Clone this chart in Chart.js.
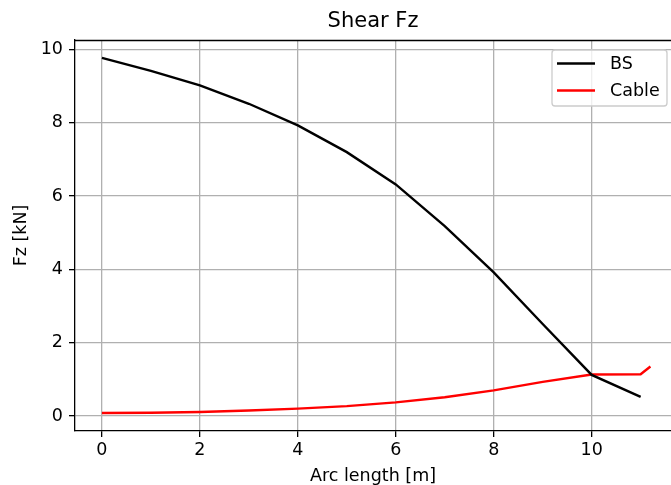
<!DOCTYPE html>
<html>
<head>
<meta charset="utf-8">
<script src="https://cdn.jsdelivr.net/npm/chart.js@4.4.0/dist/chart.umd.min.js"></script>
<style>
  html, body { margin: 0; padding: 0; background: #fff; overflow: hidden; }
  #wrap { width: 671px; height: 485px; position: relative; }
</style>
</head>
<body>
<div id="wrap"><canvas id="c" width="671" height="485"></canvas></div>
<script>
const chartTitle = "Shear Fz";
const xAxisLabel = "Arc length [m]";
const yAxisLabel = "Fz [kN]";

const bsArc = [0, 1, 2, 3, 4, 5, 6, 7, 8, 9, 10, 11];
const bsValues = [9.77, 9.42, 9.02, 8.52, 7.93, 7.20, 6.32, 5.18, 3.92, 2.51, 1.12, 0.52];

const cableArc = [0, 1, 2, 3, 4, 5, 6, 7, 8, 9, 10, 11, 11.2];
const cableValues = [0.08, 0.09, 0.11, 0.15, 0.20, 0.27, 0.37, 0.51, 0.70, 0.93, 1.13, 1.14, 1.35];

const xTicks = [0, 2, 4, 6, 8, 10];
const yTicks = [0, 2, 4, 6, 8, 10];

const FONT = "'DejaVu Sans', sans-serif";

const framePlugin = {
  id: 'frame',
  afterDatasetsDraw(chart) {
    const {ctx, chartArea: a} = chart;
    ctx.save();
    ctx.strokeStyle = '#000';
    ctx.lineWidth = 1.3;
    ctx.beginPath();
    ctx.moveTo(a.left, a.top + 0.5);
    ctx.lineTo(a.right + 10, a.top + 0.5);
    ctx.stroke();
    ctx.restore();
  },
  afterDraw(chart) {
    const {ctx, chartArea: a} = chart;
    const right = a.right - 4, top = a.top + 10;
    const w = 115, h = 56;
    const left = right - w;
    ctx.save();
    ctx.fillStyle = 'rgba(255,255,255,0.8)';
    ctx.strokeStyle = '#cccccc';
    ctx.lineWidth = 1.3;
    ctx.beginPath();
    if (ctx.roundRect) ctx.roundRect(left, top, w, h, 3); else ctx.rect(left, top, w, h);
    ctx.fill();
    ctx.stroke();
    ctx.font = '17.5px ' + FONT;
    ctx.textBaseline = 'middle';
    ctx.textAlign = 'left';
    chart.data.datasets.forEach((ds, i) => {
      const y = top + 13.5 + i * 27;
      ctx.strokeStyle = ds.borderColor;
      ctx.lineWidth = 2.4;
      ctx.beginPath();
      ctx.moveTo(left + 5, y);
      ctx.lineTo(left + 43, y);
      ctx.stroke();
      ctx.fillStyle = '#000';
      ctx.fillText(ds.label, left + 58, y + 1);
    });
    ctx.restore();
  }
};

const toPts = (xs, ys) => xs.map((x, i) => ({x: x, y: ys[i]}));

new Chart(document.getElementById('c'), {
  type: 'line',
  data: {
    datasets: [
      { label: 'BS', data: toPts(bsArc, bsValues), borderColor: '#000000', backgroundColor: '#000000',
        borderWidth: 2.4, pointRadius: 0, tension: 0, fill: false },
      { label: 'Cable', data: toPts(cableArc, cableValues), borderColor: '#ff0000', backgroundColor: '#ff0000',
        borderWidth: 2.4, pointRadius: 0, tension: 0, fill: false }
    ]
  },
  options: {
    responsive: false,
    animation: false,
    devicePixelRatio: 1,
    layout: { padding: { left: 0, right: 0, top: 0, bottom: 0 } },
    plugins: {
      legend: { display: false },
      tooltip: { enabled: false },
      title: {
        display: true, text: chartTitle, fullSize: false, color: '#000',
        font: { family: FONT, size: 21, weight: 'normal', lineHeight: 1.2 },
        padding: { top: 9, bottom: 5.8 }
      }
    },
    scales: {
      x: {
        type: 'linear', min: -0.55, max: 11.62,
        afterBuildTicks: s => { s.ticks = xTicks.map(v => ({value: v})); },
        afterFit: s => { s.height = 54; },
        ticks: { color: '#000', font: { family: FONT, size: 17.5, lineHeight: 1.2 }, padding: 3, maxRotation: 0, autoSkip: false },
        grid: { color: '#b0b0b0', lineWidth: 1.3, tickColor: '#000', tickLength: 6, tickWidth: 1.3 },
        border: { color: '#000', width: 1.3 },
        title: { display: true, text: xAxisLabel, color: '#000',
          font: { family: FONT, size: 17.5, lineHeight: 1.0 }, padding: { top: 0, bottom: 0 } }
      },
      y: {
        type: 'linear', min: -0.41, max: 10.26,
        afterBuildTicks: s => { s.ticks = yTicks.map(v => ({value: v})); },
        afterFit: s => { s.width = 75; },
        ticks: { color: '#000', font: { family: FONT, size: 17.5, lineHeight: 1.2 }, padding: 6, autoSkip: false },
        grid: { color: '#b0b0b0', lineWidth: 1.3, tickColor: '#000', tickLength: 6, tickWidth: 1.3 },
        border: { color: '#000', width: 1.3 },
        title: { display: true, text: yAxisLabel, color: '#000',
          font: { family: FONT, size: 17.5, lineHeight: 1.2 }, padding: { top: 11, bottom: 0 } }
      }
    }
  },
  plugins: [framePlugin]
});
</script>
</body>
</html>
